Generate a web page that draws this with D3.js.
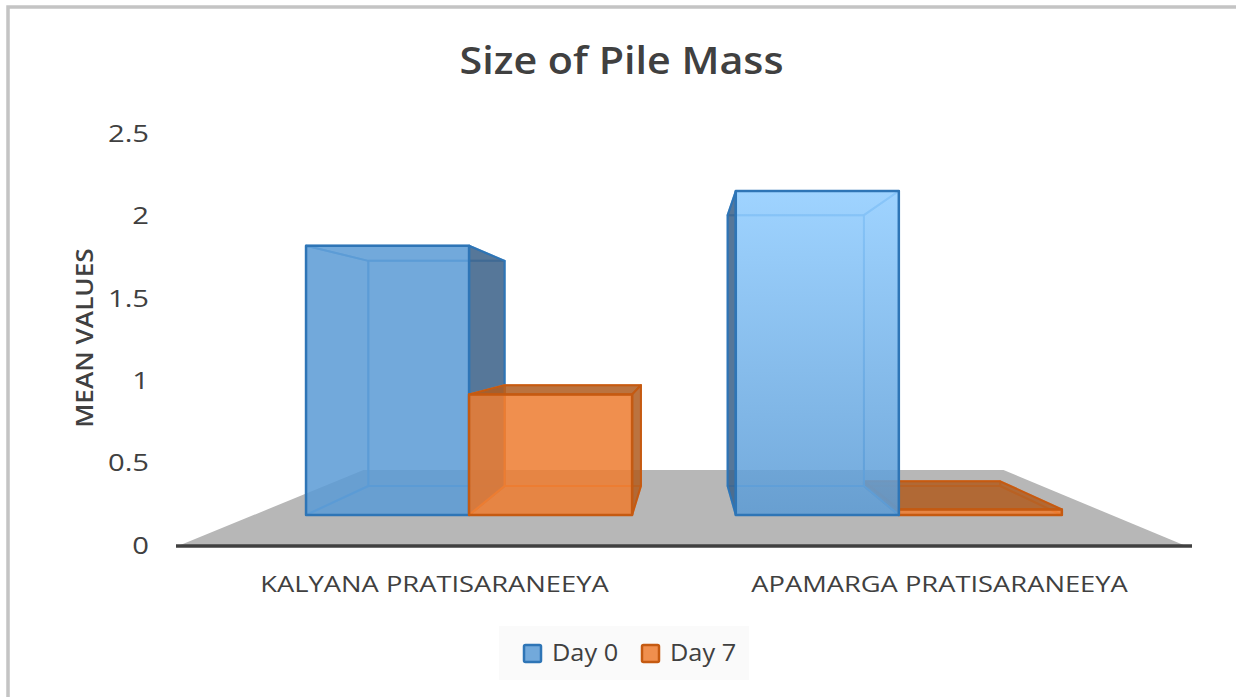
<!DOCTYPE html>
<html>
<head>
<meta charset="utf-8">
<script src="https://cdnjs.cloudflare.com/ajax/libs/d3/7.8.5/d3.min.js"></script>
<style>
  html, body { margin: 0; padding: 0; background: #ffffff; }
  svg { display: block; font-family: "Open Sans", sans-serif; }
</style>
</head>
<body>
<div id="chart"></div>
<script>
// Values
const title = "Size of Pile Mass";
const yLabel = "MEAN VALUES";
const categories = ["KALYANA PRATISARANEEYA", "APAMARGA PRATISARANEEYA"];
const seriesNames = ["Day 0", "Day 7"];
const day0 = [1.92, 2.31];
const day7 = [0.86, 0.04];
const yTicks = [0, 0.5, 1, 1.5, 2, 2.5];

const width = 1236, height = 697;

const colors = {
  "Day 0": { face: "#5b9bd5", side: "#3a6188", line: "#2e75b6", light: "#8fccff" },
  "Day 7": { face: "#ed7d31", side: "#b05c20", line: "#c55a11" }
};

const svg = d3.select("#chart").append("svg")
  .attr("width", width)
  .attr("height", height);

// The reference text looks stretched sideways, so widen glyphs by a factor
function stretch(selection, k) {
  selection.each(function() {
    this.setAttribute("textLength", this.getComputedTextLength() * k);
    this.setAttribute("lengthAdjust", "spacingAndGlyphs");
  });
}

// Frame of the chart area, only top and left show in the crop
svg.append("path")
  .attr("d", `M8,${height}V7H${width}`)
  .attr("fill", "none")
  .attr("stroke", "#c4c4c4")
  .attr("stroke-width", 3.5);

// Scales work on the front plane of the floor, project() pushes them back
const yScale = d3.scaleLinear().domain([0, 2.5]).range([546, 134]);
const xScale = d3.scaleBand().domain(categories).range([182, 1192]);
const barScale = d3.scaleBand().domain(seriesNames)
  .range([0, xScale.bandwidth()])
  .paddingInner(0)
  .paddingOuter(0.318)
  .align(0.472);

// Perspective: everything shrinks towards one vanishing point
const vanish = { x: 686, y: 338 };
const planes = { floorFront: 1, floorBack: 0.635, barFront: 0.851, barBack: 0.7115 };
const floorExtent = [178, 1186];

function project(x, y, s) {
  return [vanish.x + (x - vanish.x) * s, vanish.y + (y - vanish.y) * s];
}

const toPath = pts => "M" + pts.map(p => p.join(",")).join("L") + "Z";

// Floor
svg.append("path")
  .attr("d", toPath([
    project(floorExtent[0], yScale(0), planes.floorFront),
    project(floorExtent[1], yScale(0), planes.floorFront),
    project(floorExtent[1], yScale(0), planes.floorBack),
    project(floorExtent[0], yScale(0), planes.floorBack)
  ]))
  .attr("fill", "#b7b7b7");

// Gradient of the taller blue bar
const defs = svg.append("defs");
const topY = project(0, yScale(day0[1]), planes.barFront)[1];
const baseY = project(0, yScale(0), planes.barFront)[1];
const grad = defs.append("linearGradient")
  .attr("id", "tallBar")
  .attr("gradientUnits", "userSpaceOnUse")
  .attr("x1", 0).attr("x2", 0)
  .attr("y1", topY).attr("y2", baseY);
grad.append("stop").attr("offset", 0).attr("stop-color", colors["Day 0"].light);
grad.append("stop").attr("offset", 1).attr("stop-color", colors["Day 0"].face);

// Build one record per bar
const bars = [];
categories.forEach((cat, i) => {
  seriesNames.forEach((name, j) => {
    const value = (j === 0 ? day0 : day7)[i];
    const x0 = xScale(cat) + barScale(name);
    bars.push({ cat, name, value, x0, x1: x0 + barScale.bandwidth(), tall: i === 1 && j === 0 });
  });
});

// Bars further from the vanishing point are painted first
bars.sort((a, b) => Math.abs((b.x0 + b.x1) / 2 - vanish.x) - Math.abs((a.x0 + a.x1) / 2 - vanish.x));

const faceAlpha = 0.86;

bars.forEach(d => {
  const c = colors[d.name];
  const yTop = yScale(d.value), yBase = yScale(0);
  const f = planes.barFront, b = planes.barBack;

  const left = [project(d.x0, yBase, f), project(d.x0, yTop, f), project(d.x0, yTop, b), project(d.x0, yBase, b)];
  const right = [project(d.x1, yBase, f), project(d.x1, yTop, f), project(d.x1, yTop, b), project(d.x1, yBase, b)];
  const top = [project(d.x0, yTop, f), project(d.x1, yTop, f), project(d.x1, yTop, b), project(d.x0, yTop, b)];
  const bottom = [project(d.x0, yBase, f), project(d.x1, yBase, f), project(d.x1, yBase, b), project(d.x0, yBase, b)];
  const back = [project(d.x0, yBase, b), project(d.x1, yBase, b), project(d.x1, yTop, b), project(d.x0, yTop, b)];
  const front = [project(d.x0, yBase, f), project(d.x1, yBase, f), project(d.x1, yTop, f), project(d.x0, yTop, f)];

  const g = svg.append("g").attr("class", "bar");

  // Faces turned away from the viewer only show as thin lines through the front
  const outer = [];
  const inner = [back, bottom];
  (d.x0 > vanish.x ? outer : inner).push(left);
  (d.x1 < vanish.x ? outer : inner).push(right);
  (yTop > vanish.y ? outer : inner).push(top);

  inner.forEach(pts => {
    g.append("path")
      .attr("d", toPath(pts))
      .attr("fill", "none")
      .attr("stroke", c.face)
      .attr("stroke-width", 2)
      .attr("stroke-linejoin", "round")
      .attr("stroke-opacity", 0.75);
  });

  outer.forEach(pts => {
    g.append("path")
      .attr("d", toPath(pts))
      .attr("fill", c.side)
      .attr("fill-opacity", faceAlpha)
      .attr("stroke", c.line)
      .attr("stroke-width", 2)
      .attr("stroke-linejoin", "round");
  });

  g.append("path")
    .attr("d", toPath(front))
    .attr("fill", d.tall ? "url(#tallBar)" : c.face)
    .attr("fill-opacity", faceAlpha)
    .attr("stroke", c.line)
    .attr("stroke-width", 2.5)
    .attr("stroke-linejoin", "round");
});

// Axes
const axisY = svg.append("g")
  .attr("transform", "translate(158,0)")
  .call(d3.axisLeft(yScale).tickValues(yTicks).tickSize(0).tickPadding(9).tickFormat(d => d));
axisY.select(".domain").remove();
axisY.selectAll("text")
  .attr("font-family", "Open Sans, sans-serif")
  .attr("font-size", 23)
  .attr("fill", "#404040")
  .call(stretch, 1.27);

svg.append("line")
  .attr("x1", 176).attr("x2", 1192)
  .attr("y1", yScale(0)).attr("y2", yScale(0))
  .attr("stroke", "#404040")
  .attr("stroke-width", 3.5);

const axisX = svg.append("g")
  .attr("transform", "translate(0,576)")
  .call(d3.axisBottom(xScale).tickSize(0).tickPadding(0));
axisX.select(".domain").remove();
axisX.selectAll("text")
  .attr("font-family", "Open Sans, sans-serif")
  .attr("font-size", 22)
  .attr("fill", "#404040")
  .call(stretch, 1.24);

// Title and axis label
svg.append("text")
  .attr("x", 621.5)
  .attr("y", 74)
  .attr("text-anchor", "middle")
  .attr("font-size", 38)
  .attr("font-weight", 600)
  .attr("fill", "#404040")
  .text(title)
  .call(stretch, 1.085);

svg.append("text")
  .attr("transform", "translate(93,338) rotate(-90)")
  .attr("text-anchor", "middle")
  .attr("font-size", 24)
  .attr("font-weight", 600)
  .attr("fill", "#404040")
  .text(yLabel)
  .call(stretch, 1.09);

// Legend
const legend = svg.append("g").attr("class", "legend");
legend.append("rect")
  .attr("x", 499).attr("y", 626)
  .attr("width", 250).attr("height", 54)
  .attr("fill", "#fafafa");

const legendX = d3.scaleOrdinal().domain(seriesNames).range([524, 642]);

seriesNames.forEach(name => {
  const row = legend.append("g").attr("transform", `translate(${legendX(name)},645)`);
  row.append("rect")
    .attr("width", 17).attr("height", 17)
    .attr("rx", 1.5)
    .attr("fill", colors[name].face)
    .attr("fill-opacity", faceAlpha)
    .attr("stroke", colors[name].line)
    .attr("stroke-width", 2.5);
  row.append("text")
    .attr("x", 28)
    .attr("y", 16)
    .attr("font-size", 23)
    .attr("fill", "#404040")
    .text(name)
    .call(stretch, 1.1);
});
</script>
</body>
</html>
